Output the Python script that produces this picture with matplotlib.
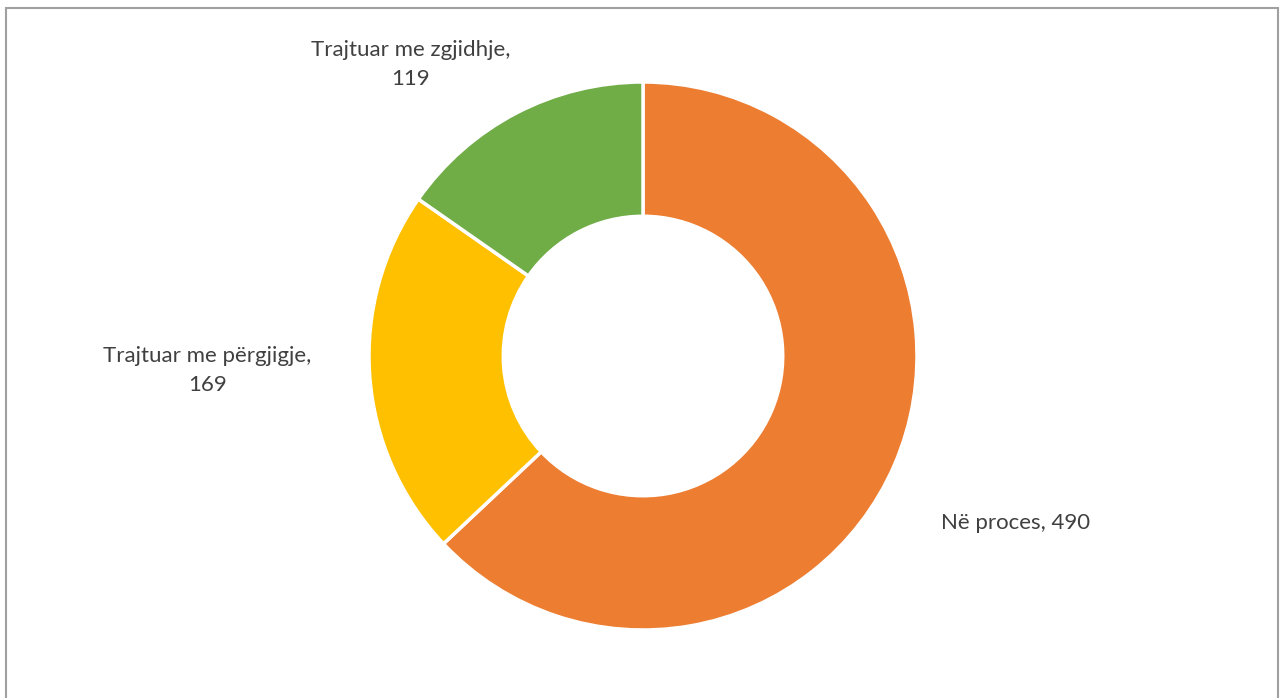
import numpy as np
import matplotlib.pyplot as plt
from matplotlib.patches import Rectangle

# Të dhënat
labels = ['Në proces', 'Trajtuar me përgjigje', 'Trajtuar me zgjidhje']
values = [490, 169, 119]
colors = ['#ED7D31', '#FFC000', '#70AD47']

plt.rcParams['font.family'] = ['Lato', 'DejaVu Sans']

W, H = 1285, 698
fig = plt.figure(figsize=(W / 100, H / 100), dpi=100)
ax = fig.add_axes([0, 0, 1, 1])

# kornizë rreth grafikut
fig.patches.append(Rectangle((6 / W, -0.05), (1278 - 6) / W, (H - 8) / H + 0.05,
                             transform=fig.transFigure, fill=False,
                             edgecolor='#a0a0a0', linewidth=1.5))

cx, cy, r = 643, H - 356, 274
wedges, _ = ax.pie(values, colors=colors, startangle=90, counterclock=False,
                   center=(cx, cy), radius=r, frame=True,
                   wedgeprops=dict(width=r * 0.49, edgecolor='white', linewidth=2.5))
ax.set_xlim(0, W)
ax.set_ylim(0, H)
ax.set_aspect('equal')
ax.axis('off')

# etiketat jashtë unazës
dist = [1.49, 1.59, 1.36]
shift = [-0.8, -2.3, 11.0]
for w, lab, v, d, s in zip(wedges, labels, values, dist, shift):
    ang = np.deg2rad((w.theta1 + w.theta2) / 2 + s)
    x = cx + d * r * np.cos(ang)
    y = cy + d * r * np.sin(ang)
    if lab == 'Në proces':
        txt = f'{lab}, {v}'
    else:
        txt = f'{lab},\n{v}'
    ax.text(x, y, txt, ha='center', va='center', fontsize=16,
            color='#404040', linespacing=1.55)

fig.savefig('out.png', dpi=100)
